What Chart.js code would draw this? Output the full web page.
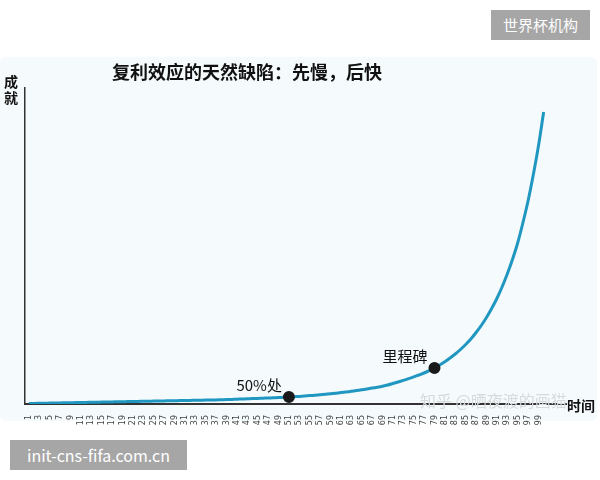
<!DOCTYPE html>
<html lang="zh">
<head>
    <meta charset="UTF-8">
    <title>复利效应的天然缺陷</title>
    <style>
        body {
            margin: 0;
            background: #fff;
            font-family: "Noto Sans CJK SC", "Noto Sans", sans-serif;
        }
        #wrap {
            position: relative;
            width: 600px;
            height: 480px;
            overflow: hidden;
        }
        #panel {
            position: absolute;
            left: 0;
            top: 57px;
            width: 597px;
            height: 364px;
            background: #f5fafc;
            border-radius: 6px;
        }
        canvas {
            position: absolute;
            left: 0;
            top: 0;
        }
        .tag {
            position: absolute;
            background: #a6a6a6;
            color: #fff;
            font-size: 15px;
            line-height: 30px;
            text-align: center;
        }
        .txt {
            position: absolute;
            color: #111;
            font-weight: bold;
            white-space: nowrap;
        }
    </style>
</head>
<body>
    <div id="wrap">
        <div id="panel"></div>
        <canvas id="chart" width="600" height="480"></canvas>
        <div class="txt" style="left:112px; top:58px; font-size:18px;">复利效应的天然缺陷：先慢，后快</div>
        <div class="txt" style="left:4px; top:73px; font-size:14px; line-height:16px; width:16px;">成<br>就</div>
        <div class="txt" style="left:567px; top:395px; font-size:14px;">时间</div>
        <div class="txt" style="left:420px; top:388px; font-size:16px; color:#d6dadc; font-weight:normal;">知乎 @晒夜渡的画猫</div>
        <div class="tag" style="left:491px; top:10px; width:99px; height:30px;">世界杯机构</div>
        <div class="tag" style="left:10px; top:440px; width:177px; height:30px; font-size:16px;">init-cns-fifa.com.cn</div>
    </div>

    <script src="https://cdn.jsdelivr.net/npm/chart.js"></script>
    <script>
        // time steps (x) and accumulated achievement (y)
        const days = [
            1, 2, 3, 4, 5, 6, 7, 8, 9, 10,
            11, 12, 13, 14, 15, 16, 17, 18, 19, 20,
            21, 22, 23, 24, 25, 26, 27, 28, 29, 30,
            31, 32, 33, 34, 35, 36, 37, 38, 39, 40,
            41, 42, 43, 44, 45, 46, 47, 48, 49, 50,
            51, 52, 53, 54, 55, 56, 57, 58, 59, 60,
            61, 62, 63, 64, 65, 66, 67, 68, 69, 70,
            71, 72, 73, 74, 75, 76, 77, 78, 79, 80,
            81, 82, 83, 84, 85, 86, 87, 88, 89, 90,
            91, 92, 93, 94, 95, 96, 97, 98, 99, 100
        ];
        const achievement = [
            0.5, 0.6, 0.7, 0.8, 0.9, 1.0, 1.1, 1.2, 1.3, 1.4,
            1.5, 1.6, 1.7, 1.8, 1.9, 2.0, 2.1, 2.2, 2.3, 2.4,
            2.5, 2.6, 2.7, 2.8, 2.9, 3.0, 3.1, 3.2, 3.3, 3.4,
            3.5, 3.6, 3.7, 3.8, 3.9, 4.0, 4.1, 4.2, 4.4, 4.6,
            4.8, 5.0, 5.2, 5.4, 5.6, 5.8, 6.0, 6.2, 6.4, 6.7,
            7.0, 7.3, 7.6, 8.0, 8.4, 8.8, 9.2, 9.7, 10.2, 10.8,
            11.4, 12.0, 12.7, 13.4, 14.2, 15.0, 15.9, 16.8, 17.8, 19.0,
            20.5, 22.0, 23.6, 25.3, 27.1, 29.0, 31.0, 33.3, 36.0, 39.0,
            42.3, 46.0, 50.0, 54.5, 59.5, 65.0, 71.5, 78.5, 86.5, 95.5,
            105.5, 117, 130, 144.5, 161, 181, 203, 229, 258, 292
        ];
        const xTicks = [
            1, 3, 5, 7, 9, 11, 13, 15, 17, 19, 21, 23, 25, 27, 29, 31, 33, 35, 37, 39,
            41, 43, 45, 47, 49, 51, 53, 55, 57, 59, 61, 63, 65, 67, 69, 71, 73, 75, 77, 79,
            81, 83, 85, 87, 89, 91, 93, 95, 97, 99
        ];
        const markerDays = [51, 79];
        const markerLabels = ['50%处', '里程碑'];

        const points = days.map((d, i) => ({ x: d, y: achievement[i] }));

        // draws the text next to the marked points
        const markerText = {
            id: 'markerText',
            afterDatasetsDraw(chart) {
                const ctx = chart.ctx;
                const xs = chart.scales.x, ys = chart.scales.y;
                ctx.save();
                ctx.font = '15px "Noto Sans CJK SC", sans-serif';
                ctx.fillStyle = '#111';
                ctx.textAlign = 'right';
                ctx.textBaseline = 'middle';
                markerDays.forEach((d, i) => {
                    const px = xs.getPixelForValue(d);
                    const py = ys.getPixelForValue(achievement[days.indexOf(d)]);
                    ctx.fillText(markerLabels[i], px - 7, py - 12);
                });
                ctx.restore();
            }
        };

        new Chart(document.getElementById('chart'), {
            type: 'line',
            data: {
                datasets: [{
                    data: points,
                    borderColor: '#1f97c1',
                    borderWidth: 3,
                    tension: 0.3,
                    fill: false,
                    pointRadius: ctx => markerDays.includes(ctx.raw && ctx.raw.x) ? 4.5 : 0,
                    pointBackgroundColor: '#1a1a1a',
                    pointBorderColor: '#1a1a1a',
                    pointHoverRadius: 0
                }]
            },
            options: {
                responsive: false,
                animation: false,
                events: [],
                layout: {
                    padding: { left: 17, top: 88, right: 34, bottom: 52 }
                },
                plugins: {
                    legend: { display: false },
                    tooltip: { enabled: false }
                },
                scales: {
                    x: {
                        type: 'linear',
                        min: 0.23,
                        max: 104.3,
                        afterBuildTicks: scale => {
                            scale.ticks = xTicks.map(v => ({ value: v }));
                        },
                        afterFit: scale => { scale.height = 24; },
                        grid: { display: false },
                        border: { display: true, color: '#333', width: 2 },
                        ticks: {
                            autoSkip: false,
                            maxRotation: 90,
                            minRotation: 90,
                            padding: 3,
                            color: '#444',
                            font: { size: 8, family: 'DejaVu Sans' },
                            callback: v => String(v)
                        }
                    },
                    y: {
                        min: 0,
                        max: 316,
                        grid: { display: false },
                        border: { display: true, color: '#333', width: 1.5 },
                        ticks: { display: false }
                    }
                }
            },
            plugins: [markerText]
        });
    </script>
</body>
</html>
